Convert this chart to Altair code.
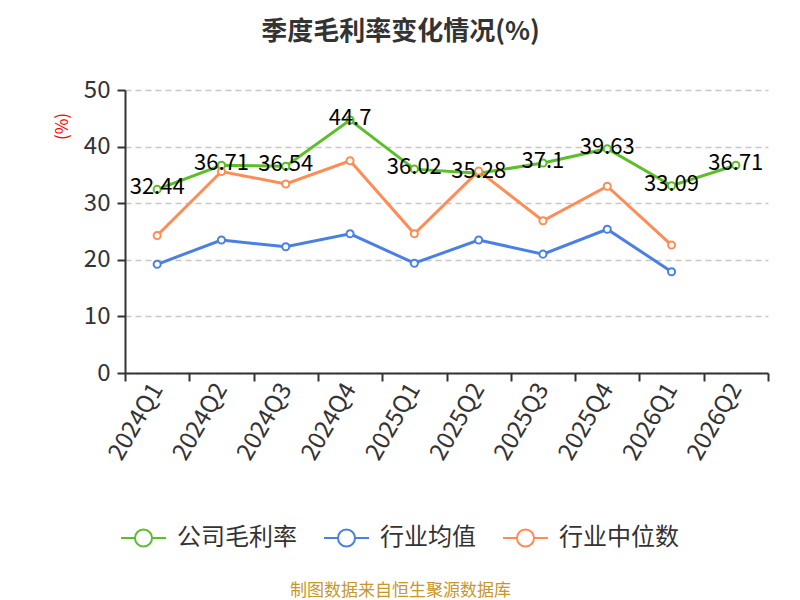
import altair as alt
import pandas as pd

quarters = ["2024Q1", "2024Q2", "2024Q3", "2024Q4", "2025Q1", "2025Q2",
            "2025Q3", "2025Q4", "2026Q1", "2026Q2"]
company = [32.44, 36.71, 36.54, 44.7, 36.02, 35.28, 37.1, 39.63, 33.09, 36.71]
industry_avg = [19.2, 23.5, 22.3, 24.6, 19.4, 23.5, 21.0, 25.4, 17.9, None]
industry_median = [24.3, 35.6, 33.4, 37.5, 24.6, 35.7, 26.9, 33.0, 22.6, None]

series_names = ["公司毛利率", "行业均值", "行业中位数"]
series_colors = ["#5cbf2a", "#4a80e3", "#ff8c55"]

rows = []
for name, vals in zip(series_names, [company, industry_avg, industry_median]):
    for q, v in zip(quarters, vals):
        if v is not None:
            rows.append({"季度": q, "系列": name, "值": v})
df = pd.DataFrame(rows)
df_company = df[df["系列"] == "公司毛利率"]

FONT = "Noto Sans CJK SC"

x_enc = alt.X(
    "季度:N", sort=quarters, scale=alt.Scale(domain=quarters),
    axis=alt.Axis(
        title="制图数据来自恒生聚源数据库", titleColor="#c9962a", titleFontSize=17,
        titleFontWeight="normal", titleX=275, titleY=217, titleAnchor="middle",
        titleBaseline="middle", titleFont=FONT,
        labelAngle=-60, labelAlign="right", labelBaseline="middle",
        labelFontSize=24, labelColor="#333333", labelPadding=4, labelFont=FONT,
        tickBand="extent", ticks=True, tickSize=8, tickColor="#333333",
        domainColor="#333333", domainWidth=2, tickWidth=2, grid=False,
    ),
)
y_enc = alt.Y(
    "值:Q", scale=alt.Scale(domain=[0, 50]),
    axis=alt.Axis(
        values=[0, 10, 20, 30, 40, 50], title="(%)", titleColor="#ff0000",
        titleFontSize=17, titleFontWeight="normal", titleAngle=-90,
        titleX=-63, titleY=36, titleAlign="center", titleBaseline="middle",
        titleFont=FONT,
        labelFontSize=24, labelColor="#333333", labelFont=FONT, labelPadding=7,
        tickSize=8, tickColor="#333333", tickWidth=2, domainColor="#333333",
        domainWidth=2, grid=True, gridDash=[6, 4], gridColor="#c8c8c8",
        gridWidth=1.5,
    ),
)

color_enc = alt.Color(
    "系列:N",
    scale=alt.Scale(domain=series_names, range=series_colors),
    legend=alt.Legend(
        title=None, orient="none", direction="horizontal", legendX=-5, legendY=424,
        symbolType="M-1,0 L-0.38,0 M0.38,0 L1,0 M-0.38,0 A0.38,0.38 0 1,1 0.38,0 A0.38,0.38 0 1,1 -0.38,0",
        symbolSize=2025, symbolStrokeWidth=2, symbolFillColor="white",
        labelFontSize=24, labelColor="#333333", labelFont=FONT,
        labelOffset=10, columnPadding=23, symbolOffset=0,
    ),
)

base = alt.Chart(df).encode(x=x_enc, y=y_enc, color=color_enc)

lines = base.mark_line(strokeWidth=3)
points = base.mark_point(filled=False, fill="white", fillOpacity=1, size=50,
                         strokeWidth=2, opacity=1)
labels = alt.Chart(df_company).mark_text(
    fontSize=22, color="#000000", baseline="middle", dy=-2, font=FONT
).encode(x=alt.X("季度:N", sort=quarters, scale=alt.Scale(domain=quarters)),
         y=alt.Y("值:Q"), text=alt.Text("值:Q"))

chart = alt.layer(lines, points, labels).properties(
    width=643, height=283,
    autosize=alt.AutoSizeParams(type="none"),
    padding={"left": 117, "top": 82, "right": 24, "bottom": 226},
    title=alt.TitleParams(
        "季度毛利率变化情况(%)", fontSize=26, fontWeight="bold", color="#333333",
        font=FONT, anchor="middle", dx=-46, offset=33,
    ),
).configure_view(stroke=None)

chart.save("out.html", embed_options={"renderer": "svg", "actions": False})
